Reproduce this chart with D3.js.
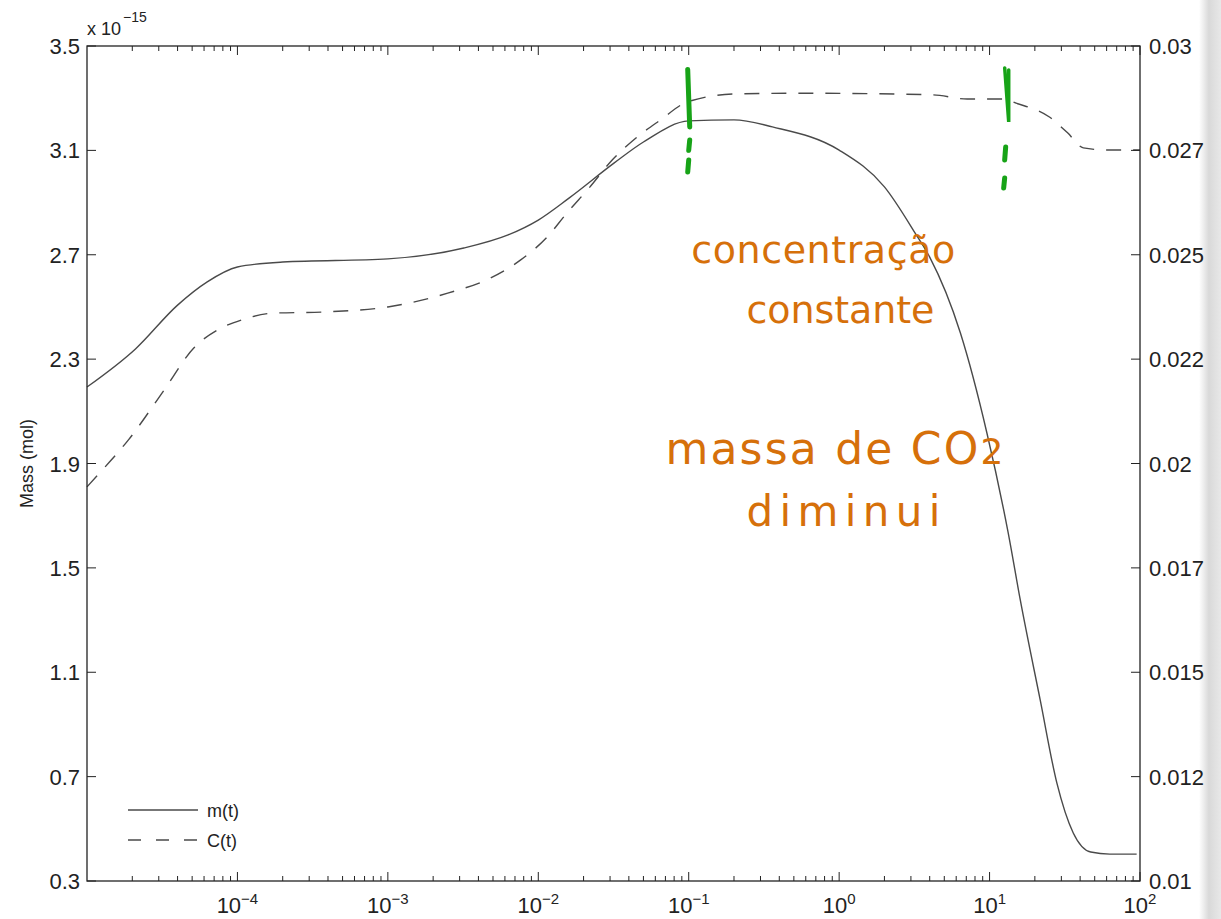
<!DOCTYPE html>
<html>
<head>
<meta charset="utf-8">
<script src="https://cdn.jsdelivr.net/npm/d3@7"></script>
<style>
  body { margin: 0; background: #fff; }
  svg { display: block; font-family: "Liberation Sans", Arial, Helvetica, sans-serif; }
</style>
</head>
<body>
<div id="chart-container"></div>
<script>
// m(t) - mass, left axis (x 1e-15 mol)
const tMass = [1e-5, 2.1e-5, 4e-5, 6.3e-5, 1e-4, 2e-4, 1e-3, 3.2e-3, 6.3e-3, 1e-2, 1.6e-2, 3.2e-2, 5e-2,
  0.1, 0.2, 0.36, 1, 2, 3.2, 4, 6.4, 9.6, 13.3, 16, 21.7, 28, 36, 47, 63, 95];
const mass = [2.193, 2.339, 2.507, 2.596, 2.653, 2.672, 2.684, 2.726, 2.776, 2.833, 2.917, 3.052, 3.132,
  3.213, 3.217, 3.19, 3.101, 2.96, 2.783, 2.691, 2.40, 2.017, 1.634, 1.377, 0.994, 0.676, 0.484, 0.411, 0.403, 0.403];

// C(t) - concentration, right axis
const tConc = [1e-5, 1.32e-5, 1.88e-5, 3.16e-5, 5.2e-5, 7.4e-5, 1.07e-4, 1.7e-4, 3.8e-4, 1e-3, 2.5e-3, 4.8e-3,
  7.6e-3, 1.15e-2, 1.55e-2, 2.2e-2, 3.1e-2, 4.3e-2, 6.5e-2, 0.098, 0.2, 0.55, 4.2, 7.1, 12.3, 15, 25, 33, 42, 60, 100];
const conc = [0.01944, 0.01992, 0.02056, 0.02169, 0.02279, 0.0232, 0.02344, 0.0236, 0.02363, 0.02375, 0.02408, 0.02444,
  0.02487, 0.02543, 0.026, 0.02662, 0.02727, 0.02775, 0.02823, 0.02866, 0.02885, 0.02887, 0.02883, 0.02873, 0.02873,
  0.02863, 0.0283, 0.02792, 0.02756, 0.02751, 0.02751];

const leftTicks = [0.3, 0.7, 1.1, 1.5, 1.9, 2.3, 2.7, 3.1, 3.5];
const rightTicks = [0.01, 0.0125, 0.015, 0.0175, 0.02, 0.0225, 0.025, 0.0275, 0.03];
const rightTickLabels = ["0.01", "0.012", "0.015", "0.017", "0.02", "0.022", "0.025", "0.027", "0.03"];
const xExponents = [-4, -3, -2, -1, 0, 1, 2];

const width = 1221;
const height = 919;
const marginTop = 46;
const marginRight = 81;
const marginBottom = 38;
const marginLeft = 87;
const ink = "#222";
const lineColor = "#4a4a4a";

const x = d3.scaleLog()
    .domain([1e-5, 1e2])
    .range([marginLeft, width - marginRight]);

const y = d3.scaleLinear()
    .domain([0.3, 3.5])
    .range([height - marginBottom, marginTop]);

const y2 = d3.scaleLinear()
    .domain([0.01, 0.03])
    .range([height - marginBottom, marginTop]);

const svg = d3.create("svg")
    .attr("width", width)
    .attr("height", height);

svg.append("rect").attr("width", width).attr("height", height).attr("fill", "#fff");

// page shadow on the right edge
const grad = svg.append("defs").append("linearGradient")
    .attr("id", "edge").attr("x1", "0").attr("x2", "1");
grad.append("stop").attr("offset", "0").attr("stop-color", "#fff");
grad.append("stop").attr("offset", "0.45").attr("stop-color", "#d9d9d9");
grad.append("stop").attr("offset", "1").attr("stop-color", "#e8e8e8");
svg.append("rect")
    .attr("x", 1199).attr("y", 0).attr("width", 22).attr("height", height)
    .attr("fill", "url(#edge)");

// lines
const massLine = d3.line()
    .x((d, i) => x(tMass[i]))
    .y(d => y(d))
    .curve(d3.curveMonotoneX);

const concLine = d3.line()
    .x((d, i) => x(tConc[i]))
    .y(d => y2(d))
    .curve(d3.curveMonotoneX);

svg.append("path")
    .attr("d", massLine(mass))
    .attr("fill", "none")
    .attr("stroke", lineColor)
    .attr("stroke-width", 1.4);

svg.append("path")
    .attr("d", concLine(conc))
    .attr("fill", "none")
    .attr("stroke", lineColor)
    .attr("stroke-width", 1.4)
    .attr("stroke-dasharray", "15,12");

// x axes (bottom + top), ticks inward
const xMajor = xExponents.map(e => Math.pow(10, e));
const xMinor = [];
for (let e = -5; e < 2; e++) {
  for (let k = 2; k <= 9; k++) xMinor.push(k * Math.pow(10, e));
}

const bottomAxis = svg.append("g")
    .attr("transform", `translate(0,${height - marginBottom})`);
bottomAxis.selectAll("line.minor").data(xMinor).join("line")
    .attr("x1", d => x(d)).attr("x2", d => x(d))
    .attr("y1", 0).attr("y2", -5)
    .attr("stroke", ink).attr("stroke-width", 1);
bottomAxis.selectAll("line.major").data(xMajor).join("line")
    .attr("x1", d => x(d)).attr("x2", d => x(d))
    .attr("y1", 0).attr("y2", -9)
    .attr("stroke", ink).attr("stroke-width", 1);
const xl = bottomAxis.selectAll("text").data(xExponents).join("text")
    .attr("x", d => x(Math.pow(10, d)))
    .attr("y", 32)
    .attr("text-anchor", "middle")
    .attr("font-size", 22)
    .attr("fill", ink);
xl.append("tspan").text("10");
xl.append("tspan")
    .attr("dy", -9)
    .attr("font-size", 15)
    .text(d => d < 0 ? "\u2212" + Math.abs(d) : String(d));

const topAxis = svg.append("g")
    .attr("transform", `translate(0,${marginTop})`);
topAxis.selectAll("line.minor").data(xMinor).join("line")
    .attr("x1", d => x(d)).attr("x2", d => x(d))
    .attr("y1", 0).attr("y2", 5)
    .attr("stroke", ink).attr("stroke-width", 1);
topAxis.selectAll("line.major").data(xMajor).join("line")
    .attr("x1", d => x(d)).attr("x2", d => x(d))
    .attr("y1", 0).attr("y2", 9)
    .attr("stroke", ink).attr("stroke-width", 1);

// left axis
const leftAxis = svg.append("g")
    .attr("transform", `translate(${marginLeft},0)`);
leftAxis.selectAll("line").data(leftTicks).join("line")
    .attr("x1", 0).attr("x2", 9)
    .attr("y1", d => y(d)).attr("y2", d => y(d))
    .attr("stroke", ink).attr("stroke-width", 1);
leftAxis.selectAll("text").data(leftTicks).join("text")
    .attr("x", -7)
    .attr("y", d => y(d) + 8)
    .attr("text-anchor", "end")
    .attr("font-size", 22)
    .attr("fill", ink)
    .text(d => d3.format(".1f")(d));

// right axis
const rightAxis = svg.append("g")
    .attr("transform", `translate(${width - marginRight},0)`);
rightAxis.selectAll("line").data(rightTicks).join("line")
    .attr("x1", 0).attr("x2", -9)
    .attr("y1", d => y2(d)).attr("y2", d => y2(d))
    .attr("stroke", ink).attr("stroke-width", 1);
rightAxis.selectAll("text").data(rightTicks).join("text")
    .attr("x", 9)
    .attr("y", d => y2(d) + 8)
    .attr("text-anchor", "start")
    .attr("font-size", 22)
    .attr("fill", ink)
    .text((d, i) => rightTickLabels[i]);

// frame
svg.append("rect")
    .attr("x", marginLeft).attr("y", marginTop)
    .attr("width", width - marginLeft - marginRight)
    .attr("height", height - marginTop - marginBottom)
    .attr("fill", "none")
    .attr("stroke", ink)
    .attr("stroke-width", 1.3);

// exponent label
const expo = svg.append("text")
    .attr("x", marginLeft)
    .attr("y", 35)
    .attr("font-size", 18)
    .attr("fill", ink);
expo.append("tspan").text("x 10");
expo.append("tspan").attr("dy", -13).attr("dx", 2).attr("font-size", 14).text("\u221215");

// y label
svg.append("text")
    .attr("transform", `translate(33,${(marginTop + height - marginBottom) / 2}) rotate(-90)`)
    .attr("text-anchor", "middle")
    .attr("font-size", 18)
    .attr("fill", ink)
    .text("Mass (mol)");

// legend
const legendItems = [
  { label: "m(t)", dash: null },
  { label: "C(t)", dash: "13,15" }
];
const legend = svg.append("g").attr("transform", "translate(128,810)");
legend.selectAll("line").data(legendItems).join("line")
    .attr("x1", 0).attr("x2", 70)
    .attr("y1", (d, i) => i * 30).attr("y2", (d, i) => i * 30)
    .attr("stroke", lineColor)
    .attr("stroke-width", 1.4)
    .attr("stroke-dasharray", d => d.dash);
legend.selectAll("text").data(legendItems).join("text")
    .attr("x", 79)
    .attr("y", (d, i) => i * 30 + 7)
    .attr("font-size", 18)
    .attr("fill", ink)
    .text(d => d.label);

// hand-drawn annotations
const green = "#17a317";
const orange = "#d6700a";
const greenMarks = [
  { t: 0.1, dt: 0.1, y0: 3.41, y1: 3.19, dashes: [[3.14, 3.10], [3.063, 3.017]] },
  { t: 13.2, dt: 12.6, y0: 3.416, y1: 3.209, dashes: [[3.113, 3.063], [2.994, 2.956]] }
];
greenMarks.forEach((m, idx) => {
  const g = svg.append("g").attr("stroke", green).attr("fill", "none")
      .attr("stroke-linecap", "round");
  if (idx === 0) {
    g.append("line")
        .attr("x1", x(m.t) - 1).attr("x2", x(m.t) + 1)
        .attr("y1", y(m.y0)).attr("y2", y(m.y1))
        .attr("stroke-width", 5);
  } else {
    g.append("path")
        .attr("d", `M${x(m.t) - 3},${y(m.y0)} L${x(m.t) + 1},${y(m.y1)} L${x(m.t) + 1},${y(m.y0) + 2}`)
        .attr("stroke-width", 3.5);
  }
  m.dashes.forEach((d, j) => {
    g.append("line")
        .attr("x1", x(m.dt) + 1 - j).attr("x2", x(m.dt) - j)
        .attr("y1", y(d[0])).attr("y2", y(d[1]))
        .attr("stroke-width", 5);
  });
});

const notes = [
  { t: 0.104, v: 2.667, text: "concentração", len: 264, size: 38 },
  { t: 0.242, v: 2.440, text: "constante", len: 188, size: 38 },
  { t: 0.070, v: 1.897, text: "massa de CO", sub: "2", len: 338, size: 44 },
  { t: 0.242, v: 1.662, text: "diminui", len: 194, size: 42 }
];
const noteText = svg.append("g")
    .attr("fill", orange)
    .selectAll("text").data(notes).join("text")
    .style("font-family", "'DejaVu Sans', 'Noto Sans', sans-serif")
    .style("font-size", d => d.size + "px")
    .attr("x", d => x(d.t))
    .attr("y", d => y(d.v))
    .attr("textLength", d => d.len)
    .attr("lengthAdjust", "spacing");
noteText.append("tspan").text(d => d.text);
noteText.filter(d => d.sub).append("tspan").style("font-size", "36px").text(d => d.sub);

document.getElementById("chart-container").appendChild(svg.node());
</script>
</body>
</html>
